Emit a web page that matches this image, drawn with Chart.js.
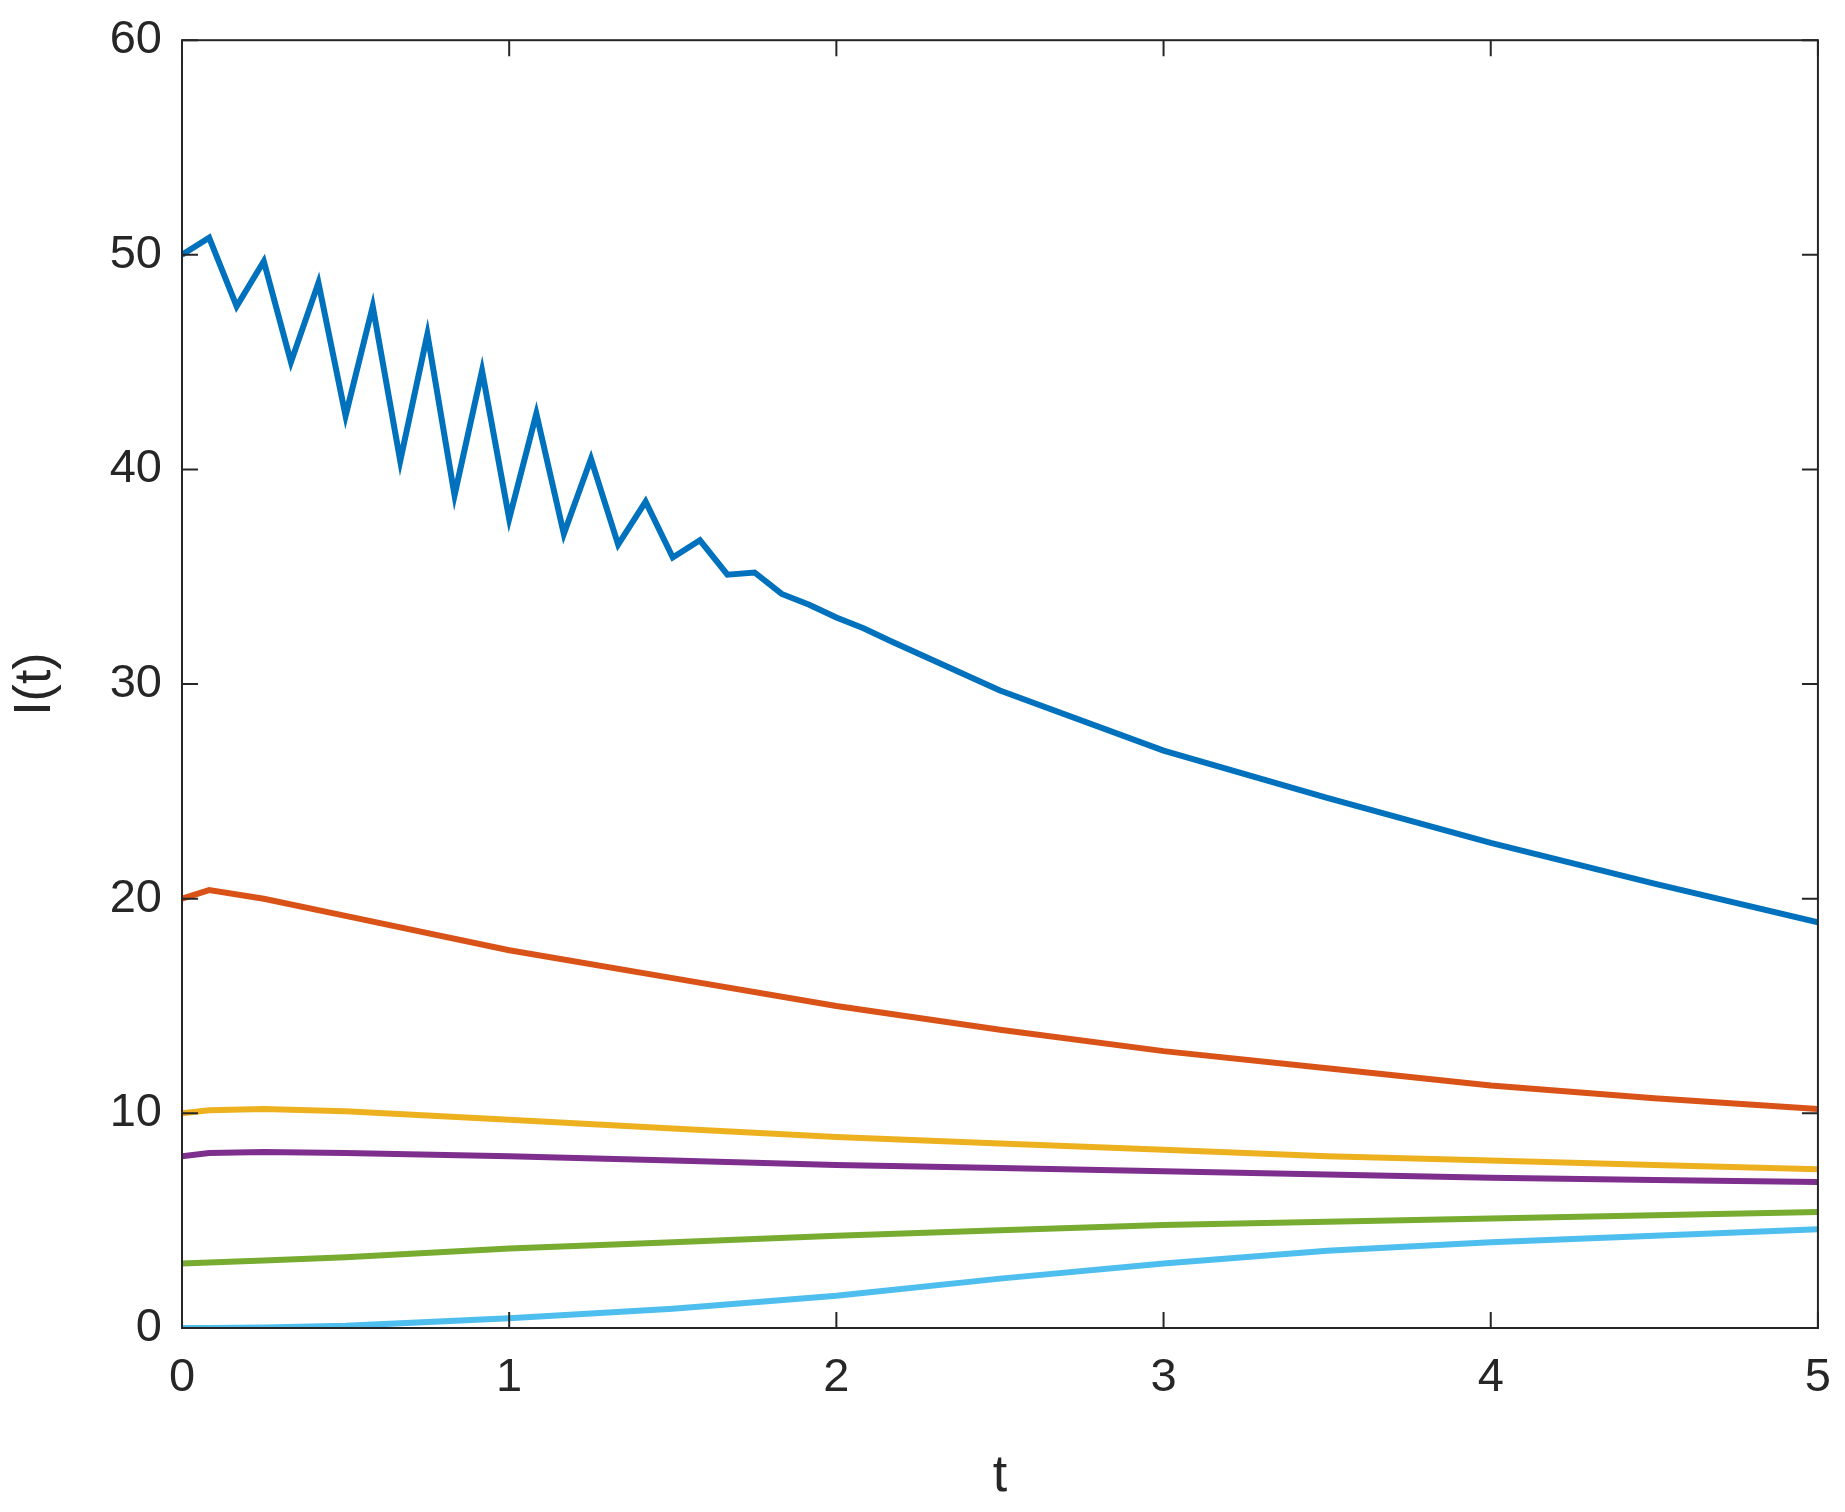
<!DOCTYPE html>
<html><head><meta charset="utf-8">
<script src="https://cdn.jsdelivr.net/npm/chart.js@4"></script>
<style>html,body{margin:0;background:#fff}#wrap{width:1845px;height:1512px}</style>
</head><body><div id="wrap"><canvas id="c"></canvas></div>
<script>
// I(t) curves
const blueT = [0,0.083,0.167,0.25,0.333,0.417,0.5,0.583,0.667,0.75,0.833,0.917,1,1.083,1.167,1.25,1.333,1.417,1.5,1.583,1.667,1.75,1.833,1.917,2,2.083,2.167,2.5,3,3.5,4,4.5,5];
const blueI = [50,50.8,47.6,49.7,45.0,48.7,42.5,47.6,40.4,46.3,38.8,44.6,37.7,42.6,37.0,40.5,36.5,38.5,35.9,36.7,35.1,35.2,34.2,33.7,33.1,32.6,32.0,29.7,26.9,24.7,22.6,20.7,18.9];
const smoothT = [0,0.083,0.25,0.5,1,1.5,2,2.5,3,3.5,4,4.5,5];
const redI    = [20,20.4,20.0,19.2,17.6,16.3,15.0,13.9,12.9,12.1,11.3,10.7,10.2];
const yellowI = [10,10.15,10.2,10.1,9.7,9.3,8.9,8.6,8.3,8.0,7.8,7.6,7.4];
const purpleI = [8,8.15,8.2,8.15,8.0,7.8,7.6,7.45,7.3,7.15,7.0,6.9,6.8];
const greenI  = [3.0,3.05,3.15,3.3,3.7,4.0,4.3,4.55,4.8,4.95,5.1,5.25,5.4];
const cyanI   = [0,0,0.02,0.1,0.45,0.9,1.5,2.3,3.0,3.6,4.0,4.3,4.6];
const xTicks = [0,1,2,3,4,5];
const yTicks = [0,10,20,30,40,50,60];

const pts = (t, v) => t.map((x, i) => ({ x, y: v[i] }));
const line = (data, color) => ({ data, borderColor: color, borderWidth: 6, pointRadius: 0, tension: 0, fill: false });

const FONT = "'Liberation Sans', Arial, sans-serif";
const INK = "#262626";

// MATLAB-style box with inward ticks on all four sides
const boxTicks = {
  id: "boxTicks",
  afterDraw(chart) {
    const { ctx, chartArea: a, scales: { x, y } } = chart;
    ctx.save();
    ctx.strokeStyle = INK; ctx.lineWidth = 2;
    ctx.strokeRect(a.left, a.top, a.right - a.left, a.bottom - a.top);
    const L = 16;
    ctx.beginPath();
    for (const v of xTicks) {
      const px = x.getPixelForValue(v);
      ctx.moveTo(px, a.bottom); ctx.lineTo(px, a.bottom - L);
      ctx.moveTo(px, a.top); ctx.lineTo(px, a.top + L);
    }
    for (const v of yTicks) {
      const py = y.getPixelForValue(v);
      ctx.moveTo(a.left, py); ctx.lineTo(a.left + L, py);
      ctx.moveTo(a.right, py); ctx.lineTo(a.right - L, py);
    }
    ctx.stroke();
    ctx.restore();
  }
};

new Chart(document.getElementById("c"), {
  type: "line",
  data: { datasets: [
    line(pts(blueT, blueI), "#0072BD"),
    line(pts(smoothT, redI), "#D95319"),
    line(pts(smoothT, yellowI), "#EDB120"),
    line(pts(smoothT, purpleI), "#7E2F8E"),
    line(pts(smoothT, greenI), "#77AC30"),
    line(pts(smoothT, cyanI), "#4DBEEE"),
  ]},
  options: {
    responsive: true, maintainAspectRatio: false, animation: false,
    layout: { padding: { top: 36, right: 23 } },
    plugins: { legend: { display: false }, tooltip: { enabled: false } },
    scales: {
      x: {
        type: "linear", min: 0, max: 5,
        afterBuildTicks: s => { s.ticks = xTicks.map(value => ({ value })); },
        afterFit: s => { s.height = 184; },
        grid: { display: false }, border: { display: false },
        ticks: { color: INK, font: { family: FONT, size: 47 }, padding: 14 },
        title: { display: true, text: "t", color: INK, font: { family: FONT, size: 52 }, padding: { top: 10 } }
      },
      y: {
        min: 0, max: 60,
        afterBuildTicks: s => { s.ticks = yTicks.map(value => ({ value })); },
        afterFit: s => { s.width = 182; },
        grid: { display: false }, border: { display: false },
        ticks: { color: INK, font: { family: FONT, size: 47 }, padding: 12 },
        title: { display: true, text: "I(t)", color: INK, font: { family: FONT, size: 52 }, padding: { bottom: 8 } }
      }
    }
  },
  plugins: [boxTicks]
});
</script></body></html>
